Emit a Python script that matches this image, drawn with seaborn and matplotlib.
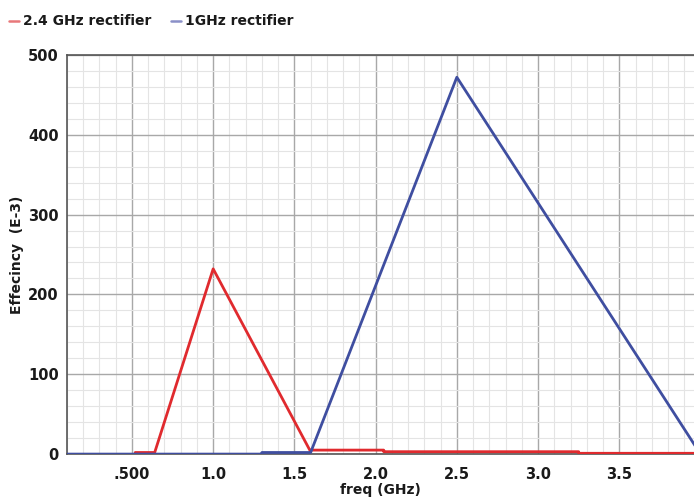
import numpy as np
import pandas as pd
import matplotlib
matplotlib.use("Agg")
import matplotlib.pyplot as plt
from matplotlib.lines import Line2D
from matplotlib.ticker import MultipleLocator, FixedLocator
import seaborn as sns

# breakpoints (freq in GHz, efficiency in E-3)
freq_red = [0.52, 0.64, 1.0, 1.6, 1.6, 2.05, 2.05, 3.25, 3.25, 4.0]
eff_red = [2, 2, 232, 3, 5, 5, 3, 3, 1, 1]
freq_blue = [0.1, 1.3, 1.3, 1.6, 2.5, 4.0]
eff_blue = [0, 0, 2, 2, 472, 0]

x_ticks = [0.5, 1.0, 1.5, 2.0, 2.5, 3.0, 3.5]
x_labels = [".500", "1.0", "1.5", "2.0", "2.5", "3.0", "3.5"]
y_ticks = [0, 100, 200, 300, 400, 500]

df = pd.concat([
    pd.DataFrame({"freq": freq_red, "eff": eff_red, "trace": "2.4 GHz rectifier"}),
    pd.DataFrame({"freq": freq_blue, "eff": eff_blue, "trace": "1GHz rectifier"}),
])

sns.set_style("white")
plt.rcParams["font.family"] = ["DejaVu Sans"]
plt.rcParams["font.weight"] = "bold"
plt.rcParams["axes.labelweight"] = "bold"

fig = plt.figure(figsize=(6.94, 4.99), dpi=100)
ax = fig.add_axes([0.0965, 0.09, 0.9035, 0.80])

palette = {"2.4 GHz rectifier": "#e02a2e", "1GHz rectifier": "#3f4ea0"}
sns.lineplot(data=df, x="freq", y="eff", hue="trace", palette=palette,
             sort=False, estimator=None, linewidth=2, ax=ax, legend=False, zorder=3)

ax.set_xlim(0.1, 3.96)
ax.set_ylim(0, 500)
ax.xaxis.set_major_locator(FixedLocator(x_ticks))
ax.set_xticklabels(x_labels)
ax.xaxis.set_minor_locator(MultipleLocator(0.1))
ax.yaxis.set_major_locator(FixedLocator(y_ticks))
ax.yaxis.set_minor_locator(MultipleLocator(20))

ax.grid(which="major", color="#a8a8a8", linewidth=1.0)
ax.grid(which="minor", color="#e4e4e4", linewidth=0.8)
ax.set_axisbelow(True)

for side in ["left", "bottom", "top"]:
    ax.spines[side].set_color("#555555")
    ax.spines[side].set_linewidth(1.2)
ax.spines["right"].set_visible(False)

ax.tick_params(which="major", direction="out", length=4, color="#555555",
               labelsize=10.5, labelcolor="#1a1a1a", pad=2)
ax.tick_params(which="minor", direction="out", length=2, color="#777777")
ax.tick_params(axis="x", pad=5)

ax.set_xlabel("freq (GHz)", fontsize=10, color="#1a1a1a", labelpad=1)
ax.set_ylabel("Effecincy  (E-3)", fontsize=10, color="#1a1a1a", labelpad=3)

# legend above the plot, top left
ly = 0.957
fig.add_artist(Line2D([0.013, 0.027], [ly, ly], transform=fig.transFigure,
                      color="#e8787a", linewidth=1.8))
fig.text(0.033, ly, "2.4 GHz rectifier", color="#1a1a1a", fontsize=10, va="center")
fig.add_artist(Line2D([0.247, 0.261], [ly, ly], transform=fig.transFigure,
                      color="#8a90c8", linewidth=1.8))
fig.text(0.266, ly, "1GHz rectifier", color="#1a1a1a", fontsize=10, va="center")

fig.savefig("out.png", dpi=100)
